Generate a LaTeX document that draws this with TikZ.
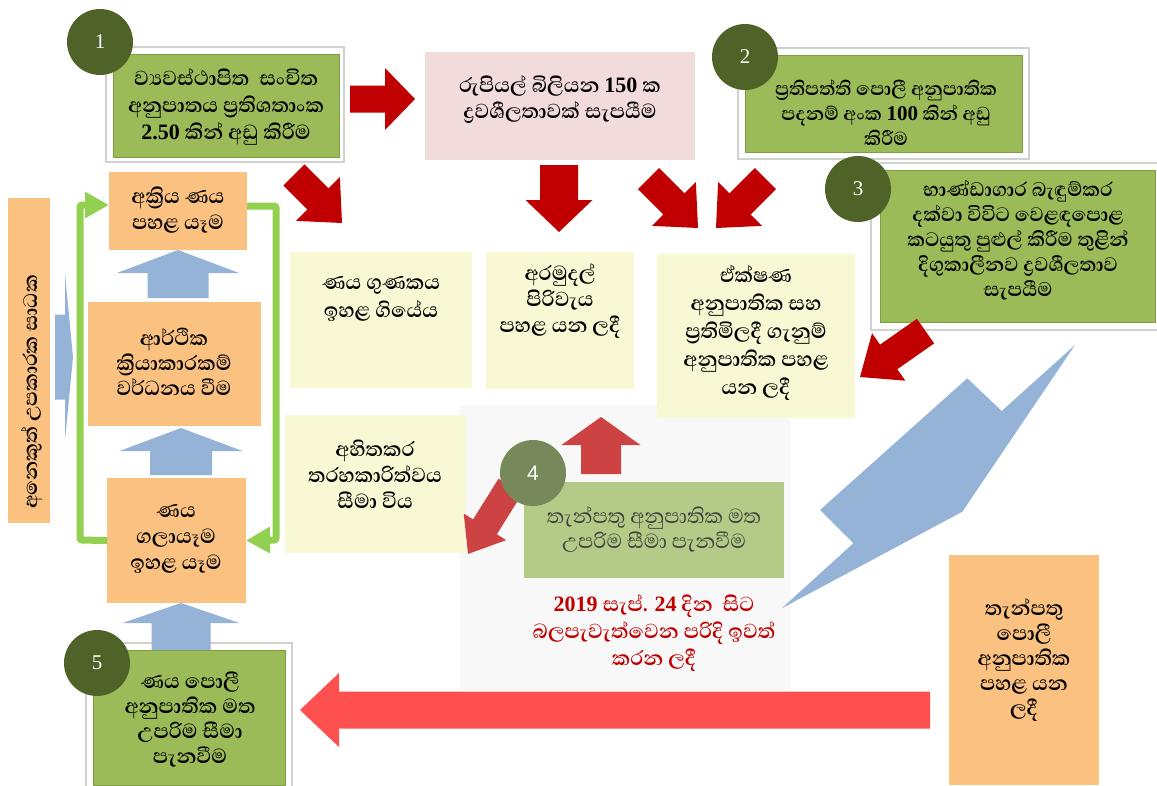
\documentclass[tikz,border=0pt]{standalone}
\usepackage{fontspec}
\setmainfont{Liberation Serif}
\newfontfamily\sifont[Script=Sinhala]{Abhaya Libre}
\newfontfamily\lsansf{Liberation Sans}
\usetikzlibrary{arrows.meta}
\definecolor{gbox}{HTML}{9BBB59}
\definecolor{gboxd}{HTML}{7E9D45}
\definecolor{gbox4}{HTML}{B3CB86}
\definecolor{obox}{HTML}{FAC180}
\definecolor{ybox}{HTML}{F8F9D4}
\definecolor{pbox}{HTML}{F2DCDB}
\definecolor{dcirc}{HTML}{4F6228}
\definecolor{ccirc}{HTML}{77895B}
\definecolor{darr}{HTML}{C00000}
\definecolor{marr}{HTML}{CD4242}
\definecolor{barr}{HTML}{FF5050}
\definecolor{blarr}{HTML}{95B3D7}
\definecolor{gloop}{HTML}{92D050}
\definecolor{rtext}{HTML}{C00000}
\definecolor{bggray}{HTML}{F8F8F8}
\definecolor{t4col}{HTML}{404040}
\newcommand{\nb}[1]{{\rmfamily\bfseries\fontsize{22}{27}\selectfont #1}}
\newcommand{\nbs}[1]{{\rmfamily\bfseries\fontsize{21}{25}\selectfont #1}}
% tip x, tip y, angle, total length, head length, head width, body width, colour
\newcommand{\blkarrow}[8]{%
  \begin{scope}[shift={(#1,#2)},rotate=#3]
    \fill[#8] (0,0) -- (-#5,#6/2) -- (-#5,#7/2) -- (-#4,#7/2) -- (-#4,-#7/2) -- (-#5,-#7/2) -- (-#5,-#6/2) -- cycle;
  \end{scope}}
\tikzset{
  box/.style={inner sep=0pt, outer sep=0pt, draw=none},
  frame/.style={box, fill=white, draw=black!18, line width=1.2pt},
  gbx/.style={box, fill=gbox, draw=gboxd, line width=0.8pt},
  txt/.style={inner sep=0pt, align=center, font=\sifont\bfseries\fontsize{26}{27}\selectfont},
  circ/.style={circle, fill=dcirc, minimum size=66pt, inner sep=0pt, text=white, font=\rmfamily\fontsize{21}{21}\selectfont},
  loop/.style={draw=gloop, line width=7pt, rounded corners=2pt, -{Triangle[length=24pt,width=25pt]}}
}
\begin{document}
\begin{tikzpicture}[x=1pt,y=-1pt]
\useasboundingbox (0,0) rectangle (1157,785);
\fill[white] (0,0) rectangle (1157,785);
% light grey field
\node[box, fill=bggray, minimum width=330pt, minimum height=285pt] (field) at (625,547.5) {};
% frames of the green boxes
\node[frame, minimum width=238pt, minimum height=115pt] (f1) at (225,104.5) {};
\node[gbx, minimum width=226pt, minimum height=103pt] (b1) at (226,105.5) {};
\node[frame, minimum width=291pt, minimum height=111pt] (f2) at (883.5,103.5) {};
\node[gbx, minimum width=277pt, minimum height=97pt] (b2) at (883.5,103.5) {};
\node[frame, minimum width=290pt, minimum height=167pt] (f3) at (1016,246.5) {};
\node[gbx, minimum width=275pt, minimum height=152pt] (b3) at (1017.5,246) {};
\node[frame, minimum width=206pt, minimum height=146pt] (f5) at (189,716) {};
\node[gbx, minimum width=192pt, minimum height=135pt] (b5) at (189,718) {};
% pink box
\node[box, fill=pbox, minimum width=270pt, minimum height=108pt] (pk) at (560,106) {};
% orange boxes
\node[box, fill=obox, minimum width=138pt, minimum height=78pt] (akr) at (178,211) {};
\node[box, fill=obox, minimum width=173pt, minimum height=124pt] (arth) at (174.5,364) {};
\node[box, fill=obox, minimum width=139pt, minimum height=125pt] (gal) at (176.5,540.5) {};
\node[box, fill=obox, minimum width=42pt, minimum height=325pt] (oth) at (29,360.5) {};
\node[box, fill=obox, minimum width=150pt, minimum height=230pt] (tpo) at (1024,670) {};
% yellow boxes
\node[box, fill=ybox, minimum width=182pt, minimum height=136pt] (y1) at (381,320) {};
\node[box, fill=ybox, minimum width=148pt, minimum height=137pt] (y2) at (560,320.5) {};
\node[box, fill=ybox, minimum width=198pt, minimum height=164pt] (y3) at (756,336) {};
\node[box, fill=ybox, minimum width=181pt, minimum height=138pt] (y4) at (375.5,484) {};
% box 4
\node[box, fill=gbox4, minimum width=260pt, minimum height=96pt] (b4) at (654,530) {};
% green loop
\draw[loop] (gal.west) -- (80,540) -- (80,205) -- ([yshift=6pt]akr.west);
\draw[loop] ([yshift=5pt]akr.east) -- (276,206) -- (276,540) -- (gal.east);
% dark red arrows
\blkarrow{415}{99}{0}{65}{30}{62}{27}{darr}
\blkarrow{342}{223}{-45}{68}{34}{62}{30}{darr}
\blkarrow{559}{232}{-90}{67}{32}{67}{38}{darr}
\blkarrow{698}{228}{-45}{70}{34}{62}{30}{darr}
\blkarrow{716}{228}{-135}{70}{34}{62}{30}{darr}
\blkarrow{860}{377}{-145}{80}{35}{58}{30}{darr}
% blue arrows
\blkarrow{178}{250}{90}{48}{23}{122}{61}{blarr}
\blkarrow{181}{428}{90}{47}{23}{123}{62}{blarr}
\blkarrow{181}{603}{90}{47}{20}{117}{59}{blarr}
\blkarrow{73}{357}{0}{18}{8}{167}{85}{blarr}
\fill[blarr] (1075,345) -- (1001.7,411) -- (967.3,378.3) -- (820,510) -- (853.3,543.3) -- (781.7,608.3) -- (962.3,511.7) -- cycle;
% arrows of step 4
\blkarrow{601}{417}{90}{57}{28}{79}{40}{marr}
\blkarrow{468}{554}{-122}{80}{32}{50}{28}{marr}
% big red arrow
\blkarrow{300}{710}{180}{630}{39}{74}{37}{barr}
% circles
\node[circ] (c1) at (100,42) {1};
\node[circ] (c2) at (745,57) {2};
\node[circ] (c3) at (858,189) {3};
\node[circ, fill=ccirc, font=\lsansf\fontsize{21}{21}\selectfont] (c4) at (533,473) {4};
\node[circ] (c5) at (97,663) {5};
% texts
\node[txt] (t1) at (226,107) {ව්‍යවස්ථාපිත\ \ සංචිත\\අනුපාතය ප්‍රතිශතාංක\\\nb{2.50} කින් අඩු කිරීම};
\node[txt, font=\sifont\bfseries\fontsize{26}{26}\selectfont] (tp) at (560,100) {රුපියල් බිලියන \nb{150} ක\\ද්‍රවශීලතාවක් සැපයීම};
\node[txt, font=\sifont\bfseries\fontsize{24}{25}\selectfont] (t2) at (886,113) {ප්‍රතිපත්ති පොලී අනුපාතික\\පදනම් අංක \nbs{100} කින් අඩු\\කිරීම};
\node[txt, font=\sifont\bfseries\fontsize{25}{25}\selectfont] (t3) at (1018,240) {භාණ්ඩාගාර බැඳුම්කර\\දක්වා විවිට වෙළඳපොළ\\කටයුතු පුළුල් කිරීම තුළින්\\දිගුකාලීනව ද්‍රවශීලතාව\\සැපයීම};
\node[txt, font=\sifont\bfseries\fontsize{26}{26}\selectfont] (takr) at (178,210) {අක්‍රිය ණය\\පහළ යෑම};
\node[txt, font=\sifont\bfseries\fontsize{26}{25}\selectfont] (tarth) at (174,362) {ආර්ථික\\ක්‍රියාකාරකම්\\වර්ධනය වීම};
\node[txt, font=\sifont\bfseries\fontsize{26}{26}\selectfont] (tgal) at (176,539) {ණය\\ගලායෑම\\ඉහළ යෑම};
\node[txt, font=\sifont\bfseries\fontsize{26}{25}\selectfont] (t5) at (190,720) {ණය පොලී\\අනුපාතික මත\\උපරිම සීමා\\පැනවීම};
\node[txt, font=\sifont\bfseries\fontsize{26}{28}\selectfont] (ty1) at (381,299) {ණය ගුණකය\\ඉහළ ගියේය};
\node[txt, font=\sifont\bfseries\fontsize{26}{26}\selectfont] (ty2) at (560,301) {අරමුදල්\\පිරිවැය\\පහළ යන ලදී};
\node[txt, font=\sifont\bfseries\fontsize{26}{28}\selectfont] (ty3) at (756,333) {ඒක්ෂණ\\අනුපාතික සහ\\ප්‍රතිමිලදී ගැනුම්\\අනුපාතික පහළ\\යන ලදී};
\node[txt, font=\sifont\bfseries\fontsize{26}{26}\selectfont] (ty4) at (375,474) {අහිතකර\\තරහකාරිත්වය\\සීමා විය};
\node[txt, text=t4col, font=\sifont\fontsize{26}{25}\selectfont] (t4) at (654,530) {තැන්පතු අනුපාතික මත\\උපරිම සීමා පැනවීම};
\node[txt, text=rtext, font=\sifont\bfseries\fontsize{26}{27}\selectfont] (tred) at (654,633) {\nb{2019} සැප්. \nb{24} දින\ \ සිට\\බලපැවැත්වෙන පරිදි ඉවත්\\කරන ලදී};
\node[txt, font=\sifont\bfseries\fontsize{26}{25}\selectfont] (tright) at (1024,660) {තැන්පතු\\පොලී\\අනුපාතික\\පහළ යන\\ලදී};
\node[txt, rotate=90, font=\sifont\bfseries\fontsize{25}{25}\selectfont] (tvert) at (32,392) {අනෙකුත් උපකාරක සාධක};
\end{tikzpicture}
\end{document}
